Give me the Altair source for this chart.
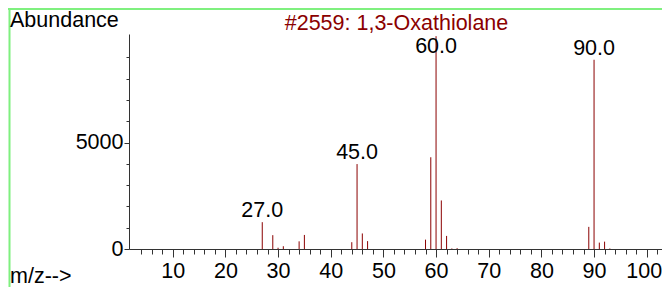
import altair as alt
import pandas as pd

# ---- data ----
mz = [27, 29, 30, 31, 34, 35, 44, 45, 46, 47, 58, 59, 60, 61, 62, 63, 64, 89, 90, 91, 92, 93]
abundance = [1260, 650, 60, 130, 360, 660, 320, 3990, 730, 370, 440, 4310, 9999, 2280, 615, 25, 40, 1040, 8890, 300, 345, 25]
labeled_mz = [27, 45, 60, 90]
x_major = list(range(10, 101, 10))
x_minor = list(range(4, 104, 2))
y_major = [0, 5000]
y_minor = [1000, 2000, 3000, 4000, 6000, 7000, 8000, 9000]
title_text = "#2559: 1,3-Oxathiolane"
y_title = "Abundance"
x_title = "m/z-->"

RED = "#8b0000"
FONT = "Liberation Sans"
FS = 21.5
AX = "#333333"
W, H = 533, 215
PAD = {"left": 121, "top": 26, "right": 0, "bottom": 38}

df = pd.DataFrame({"mz": mz, "ab": abundance})
lab = df[df["mz"].isin(labeled_mz)].copy()
lab["laby"] = lab["ab"].clip(upper=8980)
lab["txt"] = lab["mz"].map(lambda v: f"{v:.1f}")

x_scale = alt.Scale(domain=[1.7, 102.9], nice=False, zero=False)
y_scale = alt.Scale(domain=[0, 10100], nice=False)

peaks = alt.Chart(df).mark_rule(color=RED, strokeWidth=1).encode(
    x=alt.X("mz:Q", scale=x_scale, axis=alt.Axis(
        orient="bottom", values=x_major, title=None, grid=False, format="d",
        tickSize=8, labelFontSize=FS, labelFont=FONT, labelColor="black",
        labelPadding=3, labelFlush=20, labelFlushOffset=15, labelOverlap=False,
        domainColor=AX, tickColor=AX)),
    y=alt.Y("ab:Q", scale=y_scale, axis=alt.Axis(
        orient="left", values=y_major, title=None, grid=False, format="d",
        tickSize=5, labelFontSize=FS, labelFont=FONT, labelColor="black",
        labelPadding=1, labelFlush=False, labelOverlap=False,
        domainColor=AX, tickColor=AX)),
    y2=alt.datum(0),
)

minor_x = alt.Chart(pd.DataFrame({"t": x_minor})).mark_rule(opacity=0).encode(
    x=alt.X("t:Q", scale=x_scale, axis=alt.Axis(
        orient="bottom", values=x_minor, title=None, grid=False, labels=False,
        domain=False, tickSize=5, tickColor=AX)),
)

minor_y = alt.Chart(pd.DataFrame({"t": y_minor})).mark_rule(opacity=0).encode(
    y=alt.Y("t:Q", scale=y_scale, axis=alt.Axis(
        orient="left", values=y_minor, title=None, grid=False, labels=False,
        domain=False, tickSize=3, tickColor=AX)),
)

peak_labels = alt.Chart(lab).mark_text(
    dy=-5, baseline="alphabetic", align="center", fontSize=FS, font=FONT, color="black"
).encode(
    x=alt.X("mz:Q", scale=x_scale, axis=None),
    y=alt.Y("laby:Q", scale=y_scale, axis=None),
    text="txt:N",
)

def label(text, x, y, align, color="black"):
    return alt.Chart(pd.DataFrame({"t": [text]})).mark_text(
        align=align, baseline="alphabetic", fontSize=FS, font=FONT, color=color
    ).encode(text="t:N", x=alt.value(x), y=alt.value(y))

title = label(title_text, 267.5, -4, "center", RED)
ylab = label(y_title, -119, -7, "left")
xlab = label(x_title, -119, 249, "left")

one = pd.DataFrame({"a": [0]})
frame_top = alt.Chart(one).mark_rule(color="#7ff07f", strokeWidth=2).encode(
    x=alt.value(-121), x2=alt.value(W), y=alt.value(-25))
frame_left = alt.Chart(one).mark_rule(color="#7ff07f", strokeWidth=2).encode(
    x=alt.value(-119.5), y=alt.value(-26), y2=alt.value(H + 38))

chart = alt.layer(
    frame_top, frame_left, minor_x, minor_y, peaks, peak_labels, title, ylab, xlab
).resolve_axis(
    x="independent", y="independent"
).properties(
    width=W, height=H, padding=PAD, autosize=alt.AutoSizeParams(type="none"),
    background="white",
).configure_view(stroke=None)

chart.save("out.html", embed_options={"renderer": "svg", "actions": False})
